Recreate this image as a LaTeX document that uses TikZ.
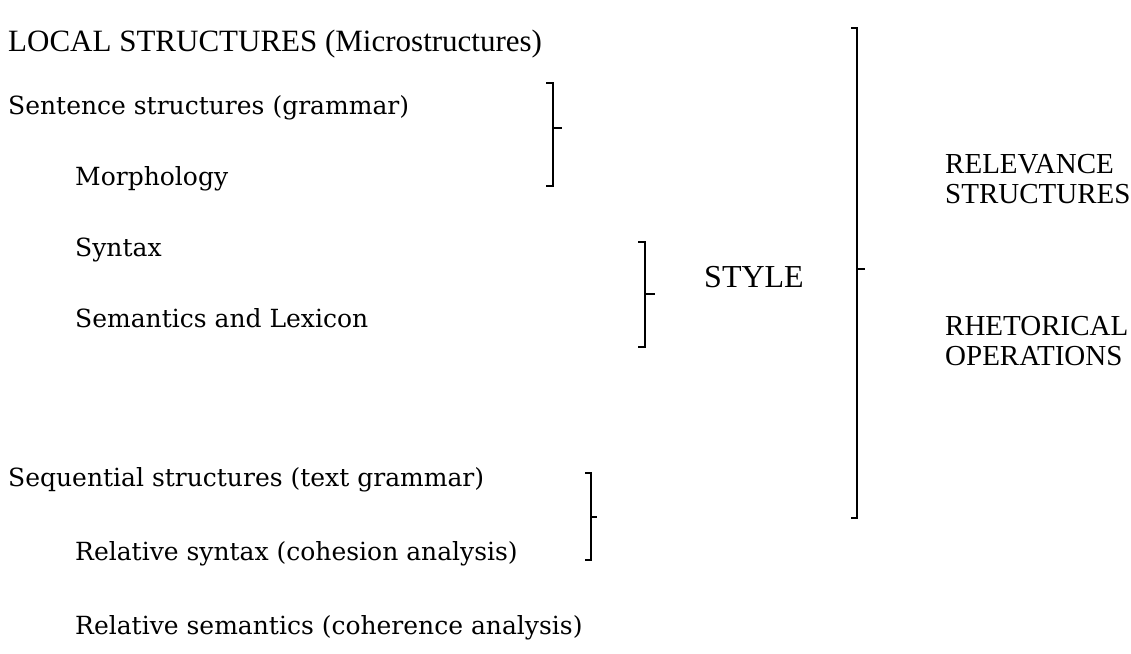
\documentclass[tikz,border=0pt]{standalone}
\usepackage{fontspec}
\setmainfont{Liberation Serif}
\newfontfamily\itemfont{DejaVu Serif}
\tikzset{
	head/.style={anchor=base west,inner sep=0pt,font=\fontsize{31}{33}\selectfont},
	side/.style={anchor=base west,inner sep=0pt,font=\fontsize{29}{31}\selectfont},
	item/.style={anchor=base west,inner sep=0pt,font=\itemfont\fontsize{25}{27}\selectfont},
	brace/.style={line width=1.8pt,line cap=butt,line join=miter}
}
\begin{document}
\begin{tikzpicture}[x=1pt,y=-1pt]
	\useasboundingbox (0,0) rectangle (1131,653);
	% left column
	\node[head] (local) at (8,51) {LOCAL STRUCTURES (Microstructures)};
	\node[item] (sentence) at (8,114) {Sentence structures (grammar)};
	\node[item] (morph) at (75,185) {Morphology};
	\node[item] (syntax) at (75,256) {Syntax};
	\node[item] (semantics) at (75,327) {Semantics and Lexicon};
	\node[item] (sequential) at (8,486) {Sequential structures (text grammar)};
	\node[item] (relsyn) at (75,560) {Relative syntax (cohesion analysis)};
	\node[item] (relsem) at (75,634) {Relative semantics (coherence analysis)};
	% right column
	\node[head,font=\fontsize{32}{34}\selectfont] (style) at (704,287) {STYLE};
	\node[side] (relev) at (945,173) {RELEVANCE};
	\node[side] (struct) at (945,203) {STRUCTURES};
	\node[side] (rhet) at (945,335) {RHETORICAL};
	\node[side] (oper) at (945,365) {OPERATIONS};
	% brackets
	\path
	(546,83) coordinate (A1) (553,83) coordinate (A2)
	(553,186) coordinate (A3) (546,186) coordinate (A4)
	(553,128) coordinate (A5) (562,128) coordinate (A6)
	(638,242) coordinate (B1) (645,242) coordinate (B2)
	(645,347) coordinate (B3) (638,347) coordinate (B4)
	(645,294) coordinate (B5) (655,294) coordinate (B6)
	(585,473) coordinate (C1) (591,473) coordinate (C2)
	(591,560) coordinate (C3) (585,560) coordinate (C4)
	(591,517) coordinate (C5) (597,517) coordinate (C6)
	(851,28) coordinate (D1) (857,28) coordinate (D2)
	(857,518) coordinate (D3) (851,518) coordinate (D4)
	(857,269) coordinate (D5) (865,269) coordinate (D6)
	;
	\draw[brace] (A1)--(A2)--(A3)--(A4) (A5)--(A6);
	\draw[brace] (B1)--(B2)--(B3)--(B4) (B5)--(B6);
	\draw[brace] (C1)--(C2)--(C3)--(C4) (C5)--(C6);
	\draw[brace] (D1)--(D2)--(D3)--(D4) (D5)--(D6);
\end{tikzpicture}
\end{document}
